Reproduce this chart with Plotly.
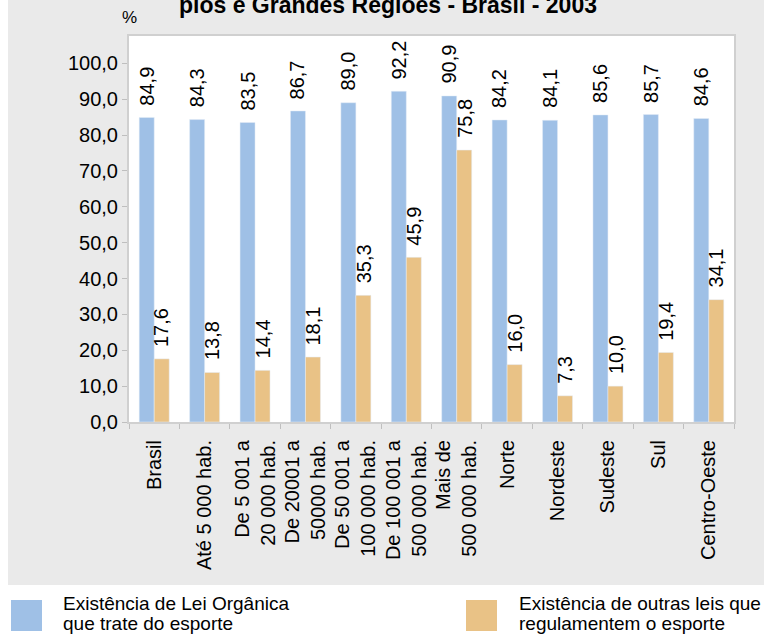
import plotly.graph_objects as go

categories = ["Brasil", "Até 5 000 hab.", "De 5 001 a<br>20 000 hab.", "De 20001 a<br>50000 hab.",
              "De 50 001 a<br>100 000 hab.", "De 100 001 a<br>500 000 hab.", "Mais de<br>500 000 hab.",
              "Norte", "Nordeste", "Sudeste", "Sul", "Centro-Oeste"]
lei_organica = [84.9, 84.3, 83.5, 86.7, 89.0, 92.2, 90.9, 84.2, 84.1, 85.6, 85.7, 84.6]
outras_leis = [17.6, 13.8, 14.4, 18.1, 35.3, 45.9, 75.8, 16.0, 7.3, 10.0, 19.4, 34.1]
series_lines = [["Existência de Lei Orgânica", "que trate do esporte"],
                ["Existência de outras leis que", "regulamentem o esporte"]]
yticks = [0, 10, 20, 30, 40, 50, 60, 70, 80, 90, 100]

BLUE = "#9FC0E6"
ORANGE = "#E9C286"
GRAY = "#EAEAEA"
FONT = "Liberation Sans"

W, H = 764, 634
L, R, T, B = 129, 30, 36, 212
pw, ph = W - L - R, H - T - B

def px(xp):
    return (xp - L) / pw

def py(yp):
    return (H - B - yp) / ph

fig = go.Figure()
fig.add_trace(go.Bar(x=categories, y=lei_organica, marker_color=BLUE, name=" ".join(series_lines[0]),
                     showlegend=False))
fig.add_trace(go.Bar(x=categories, y=outras_leis, marker_color=ORANGE, name=" ".join(series_lines[1]),
                     showlegend=False))

annotations = []
for vals, shift in ((lei_organica, -7.5), (outras_leis, 7.5)):
    for c, v in zip(categories, vals):
        annotations.append(dict(x=c, y=v, xref="x", yref="y", text=f"{v:.1f}".replace(".", ","),
                                showarrow=False, textangle=-90, xanchor="center", yanchor="bottom",
                                xshift=shift, yshift=10,
                                font=dict(family=FONT, size=20, color="#000")))

# title (cut off at the top) and unit
annotations.append(dict(x=px(388), y=py(20), xref="paper", yref="paper",
                        text="<b>pios e Grandes Regiões - Brasil - 2003</b>", showarrow=False,
                        xanchor="center", yanchor="bottom", font=dict(family=FONT, size=23, color="#000")))
annotations.append(dict(x=px(120), y=py(29), xref="paper", yref="paper", text="%", showarrow=False,
                        xanchor="left", yanchor="bottom", font=dict(family=FONT, size=17, color="#000")))

shapes = [
    dict(type="rect", xref="paper", yref="paper", x0=px(0), x1=px(W), y0=py(H), y1=py(585),
         fillcolor="white", line_width=0, layer="below"),
    dict(type="rect", xref="paper", yref="paper", x0=px(0), x1=px(8), y0=py(585), y1=py(0),
         fillcolor="white", line_width=0, layer="below"),
]
legend_items = [(11, 61, BLUE, series_lines[0]), (466, 517, ORANGE, series_lines[1])]
for sx, tx, col, lines in legend_items:
    shapes.append(dict(type="rect", xref="paper", yref="paper", x0=px(sx), x1=px(sx + 31),
                       y0=py(631), y1=py(600), fillcolor=col, line_width=0))
    for k, line in enumerate(lines):
        annotations.append(dict(x=px(tx), y=py(591 + 20 * k), xref="paper", yref="paper", text=line,
                                showarrow=False, xanchor="left", yanchor="top", align="left",
                                font=dict(family=FONT, size=19, color="#000")))

fig.update_layout(
    width=W, height=H,
    margin=dict(l=L, r=R, t=T, b=B, autoexpand=False),
    paper_bgcolor=GRAY, plot_bgcolor="white",
    barmode="group", bargap=0.405, bargroupgap=0,
    separators=", ",
    font=dict(family=FONT, size=17, color="#000"),
    annotations=annotations, shapes=shapes,
    showlegend=False,
)
fig.update_xaxes(type="category", tickangle=-90, ticks="outside", tickson="boundaries", ticklen=5,
                 tickcolor="#BFBFBF", showline=True, linecolor="#D0D0D0", linewidth=2, mirror=True,
                 showgrid=False, ticklabelstandoff=8, tickfont=dict(family=FONT, size=20, color="#000"))
fig.update_yaxes(range=[0, 107.6], tickvals=yticks, tickformat=".1f", ticks="outside", ticklen=5,
                 tickcolor="#BFBFBF", showline=True, linecolor="#D0D0D0", linewidth=2, mirror=True,
                 showgrid=False, zeroline=False, tickfont=dict(family=FONT, size=20, color="#000"))

fig.write_html("out.html", config={"displayModeBar": False},
               post_script="document.body.style.margin='0';document.body.style.overflow='hidden';")
